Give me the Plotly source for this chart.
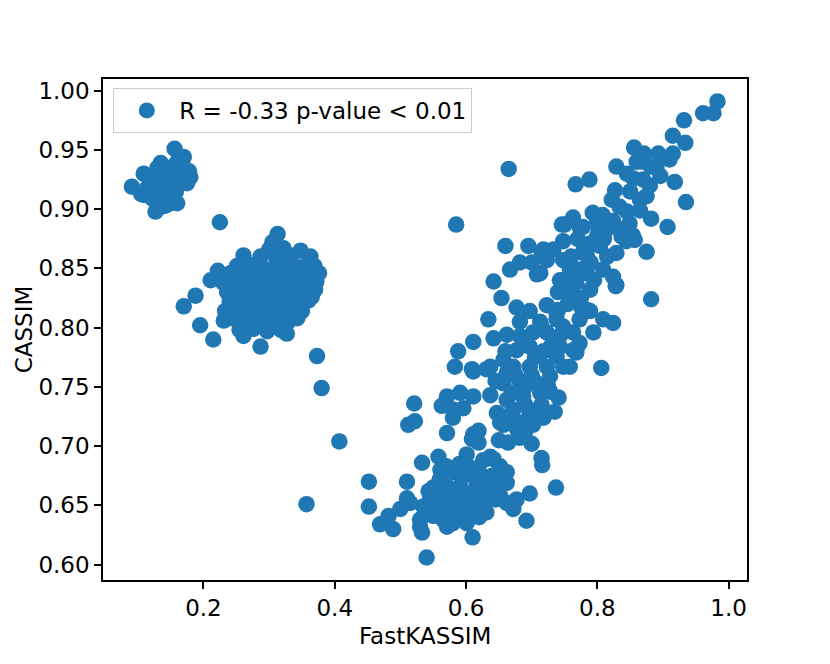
import plotly.graph_objects as go

# cluster at top left
top_x = [0.091, 0.105, 0.109, 0.109, 0.118, 0.120, 0.125, 0.127, 0.130, 0.132,
         0.135, 0.135, 0.140, 0.140, 0.145, 0.145, 0.150, 0.150, 0.155, 0.156,
         0.160, 0.160, 0.165, 0.168, 0.170, 0.175, 0.180, 0.178, 0.113, 0.142,
         0.122, 0.158]
top_y = [0.919, 0.913, 0.930, 0.912, 0.922, 0.926, 0.920, 0.898, 0.935, 0.927,
         0.939, 0.902, 0.910, 0.925, 0.935, 0.918, 0.915, 0.905, 0.925, 0.951,
         0.940, 0.905, 0.930, 0.938, 0.944, 0.922, 0.927, 0.932, 0.917, 0.903,
         0.909, 0.915]

# cluster at middle left, plus its stragglers
mid_x = [0.225, 0.170, 0.188, 0.195, 0.215, 0.287, 0.313, 0.305, 0.261, 0.222,
         0.211, 0.373, 0.380, 0.407, 0.357,
         0.300, 0.322, 0.348,
         0.287, 0.311, 0.334, 0.363,
         0.251, 0.271, 0.289, 0.309, 0.331, 0.350, 0.369,
         0.241, 0.263, 0.281, 0.303, 0.321, 0.343, 0.361, 0.376,
         0.230, 0.251, 0.269, 0.291, 0.309, 0.329, 0.351, 0.372,
         0.236, 0.257, 0.275, 0.297, 0.316, 0.337, 0.355, 0.370,
         0.240, 0.259, 0.281, 0.299, 0.321, 0.339, 0.360,
         0.233, 0.253, 0.271, 0.293, 0.311, 0.333, 0.350,
         0.231, 0.249, 0.271, 0.289, 0.311, 0.329, 0.343,
         0.255, 0.276, 0.297, 0.318,
         0.261, 0.327,
         0.262, 0.284, 0.306, 0.326, 0.346, 0.246, 0.266, 0.286, 0.306, 0.326,
         0.346, 0.365, 0.243, 0.265, 0.285, 0.305, 0.328, 0.340, 0.280, 0.300,
         0.320]
mid_y = [0.889, 0.818, 0.827, 0.802, 0.790, 0.784, 0.879, 0.872, 0.861, 0.848,
         0.840, 0.776, 0.749, 0.704, 0.651,
         0.866, 0.867, 0.865,
         0.860, 0.859, 0.861, 0.860,
         0.852, 0.853, 0.851, 0.852, 0.853, 0.851, 0.852,
         0.846, 0.845, 0.847, 0.846, 0.845, 0.846, 0.847, 0.846,
         0.838, 0.839, 0.837, 0.838, 0.839, 0.837, 0.838, 0.839,
         0.830, 0.831, 0.829, 0.830, 0.831, 0.829, 0.830, 0.832,
         0.822, 0.823, 0.821, 0.822, 0.823, 0.821, 0.823,
         0.814, 0.815, 0.813, 0.814, 0.815, 0.813, 0.814,
         0.806, 0.807, 0.805, 0.806, 0.807, 0.805, 0.808,
         0.798, 0.799, 0.797, 0.798,
         0.793, 0.795,
         0.842, 0.843, 0.841, 0.842, 0.843, 0.834, 0.835, 0.833, 0.834, 0.835,
         0.834, 0.826, 0.818, 0.818, 0.817, 0.818, 0.818, 0.818, 0.802, 0.802,
         0.803]

# long cluster on the right
right_x = [0.983, 0.961, 0.977, 0.932, 0.915, 0.934, 0.856, 0.871, 0.893, 0.915,
           0.910, 0.870, 0.829, 0.882, 0.896, 0.918, 0.855, 0.870, 0.788, 0.767,
           0.935, 0.827, 0.822, 0.865, 0.875, 0.834, 0.865, 0.882, 0.907, 0.746,
           0.763, 0.793, 0.808, 0.824, 0.849, 0.778, 0.814, 0.837, 0.857, 0.748,
           0.789, 0.804, 0.829, 0.875, 0.718, 0.733, 0.779, 0.665,
           0.585, 0.660, 0.695, 0.715, 0.750, 0.773, 0.799, 0.834, 0.854, 0.784,
           0.667, 0.682, 0.708, 0.723, 0.748, 0.758, 0.773, 0.784, 0.809, 0.824,
           0.829, 0.748, 0.768, 0.746, 0.763, 0.789, 0.642, 0.654, 0.677, 0.634,
           0.697, 0.723, 0.740, 0.682, 0.713, 0.738, 0.776, 0.789, 0.809, 0.824,
           0.773, 0.794, 0.763, 0.642, 0.662, 0.682, 0.702, 0.723, 0.743, 0.611,
           0.588, 0.583, 0.609, 0.637, 0.657, 0.677, 0.697, 0.718, 0.738, 0.763,
           0.773, 0.672, 0.697, 0.723, 0.748, 0.806,
           0.882, 0.828, 0.784, 0.768, 0.758, 0.743, 0.748, 0.738, 0.758, 0.743,
           0.763, 0.779, 0.844, 0.713, 0.715,
           0.611, 0.631, 0.662, 0.657, 0.682, 0.708, 0.728, 0.768, 0.571, 0.591,
           0.611, 0.580, 0.596, 0.563, 0.580, 0.637, 0.662, 0.687, 0.713, 0.728,
           0.741, 0.735, 0.647, 0.672, 0.697, 0.718, 0.657, 0.682, 0.702, 0.571,
           0.611, 0.619, 0.609, 0.664, 0.700, 0.682, 0.601, 0.637, 0.715,
           0.512, 0.522, 0.521, 0.619, 0.652, 0.677, 0.716, 0.737, 0.697, 0.692,
           0.452, 0.452, 0.469, 0.489, 0.482, 0.500, 0.510, 0.510, 0.533, 0.558,
           0.561, 0.543, 0.530, 0.533, 0.540, 0.571, 0.573, 0.591, 0.601, 0.610,
           0.631, 0.672, 0.606, 0.626, 0.642, 0.652, 0.662, 0.662, 0.581, 0.596,
           0.571, 0.591, 0.616, 0.637, 0.652, 0.616, 0.555, 0.535, 0.545, 0.611,
           0.591, 0.626, 0.515, 0.530, 0.550, 0.677, 0.662,
           0.560, 0.565, 0.575, 0.585, 0.585, 0.600, 0.605, 0.620, 0.625, 0.640,
           0.645, 0.630, 0.600, 0.580, 0.565, 0.620, 0.550, 0.560, 0.640, 0.655,
           0.610, 0.590, 0.570,
           0.690, 0.700, 0.715, 0.725, 0.705, 0.730, 0.660, 0.675, 0.645, 0.690,
           0.670, 0.660, 0.690, 0.650, 0.705,
           0.760, 0.770, 0.800, 0.790, 0.815, 0.810, 0.795, 0.775, 0.755, 0.740,
           0.700, 0.850, 0.845, 0.860, 0.890, 0.880, 0.845]
right_y = [0.991, 0.981, 0.981, 0.975, 0.962, 0.956, 0.952, 0.947, 0.947, 0.947,
           0.942, 0.940, 0.936, 0.936, 0.928, 0.923, 0.926, 0.925, 0.925, 0.921,
           0.906, 0.916, 0.908, 0.908, 0.911, 0.902, 0.899, 0.892, 0.885, 0.887,
           0.893, 0.897, 0.895, 0.890, 0.888, 0.885, 0.883, 0.877, 0.874, 0.873,
           0.871, 0.869, 0.863, 0.864, 0.866, 0.866, 0.863, 0.934,
           0.887, 0.869, 0.869, 0.864, 0.887, 0.885, 0.888, 0.883, 0.878, 0.861,
           0.849, 0.855, 0.845, 0.857, 0.857, 0.850, 0.849, 0.846, 0.849, 0.843,
           0.836, 0.840, 0.838, 0.832, 0.828, 0.832, 0.839, 0.825, 0.817, 0.807,
           0.814, 0.819, 0.815, 0.805, 0.805, 0.807, 0.817, 0.814, 0.807, 0.804,
           0.807, 0.796, 0.796, 0.791, 0.794, 0.793, 0.796, 0.796, 0.793, 0.788,
           0.780, 0.767, 0.765, 0.767, 0.773, 0.781, 0.784, 0.780, 0.776, 0.781,
           0.787, 0.767, 0.767, 0.767, 0.767, 0.766,
           0.824, 0.835, 0.815, 0.781, 0.767, 0.784, 0.801, 0.812, 0.827, 0.840,
           0.846, 0.866, 0.873, 0.846, 0.801,
           0.763, 0.765, 0.762, 0.753, 0.755, 0.753, 0.759, 0.779, 0.742, 0.745,
           0.742, 0.731, 0.732, 0.734, 0.724, 0.743, 0.739, 0.742, 0.745, 0.746,
           0.741, 0.729, 0.728, 0.731, 0.728, 0.724, 0.718, 0.720, 0.718, 0.711,
           0.710, 0.713, 0.706, 0.703, 0.702, 0.707, 0.693, 0.691, 0.690,
           0.718, 0.721, 0.736, 0.703, 0.720, 0.715, 0.684, 0.665, 0.660, 0.637,
           0.670, 0.649, 0.634, 0.630, 0.641, 0.647, 0.656, 0.670, 0.686, 0.691,
           0.680, 0.662, 0.632, 0.627, 0.606, 0.632, 0.644, 0.655, 0.635, 0.623,
           0.644, 0.647, 0.682, 0.688, 0.689, 0.683, 0.678, 0.669, 0.678, 0.675,
           0.666, 0.666, 0.669, 0.666, 0.658, 0.655, 0.652, 0.649, 0.655, 0.644,
           0.641, 0.649, 0.652, 0.638, 0.641, 0.655, 0.652,
           0.645, 0.660, 0.655, 0.648, 0.660, 0.650, 0.660, 0.660, 0.675, 0.675,
           0.655, 0.655, 0.645, 0.635, 0.638, 0.640, 0.665, 0.672, 0.660, 0.668,
           0.678, 0.685, 0.683,
           0.750, 0.760, 0.735, 0.750, 0.775, 0.785, 0.780, 0.760, 0.755, 0.735,
           0.745, 0.725, 0.712, 0.705, 0.730,
           0.860, 0.875, 0.878, 0.855, 0.860, 0.875, 0.840, 0.825, 0.820, 0.830,
           0.855, 0.915, 0.930, 0.940, 0.935, 0.920, 0.898]

fast_kassim = top_x + mid_x + right_x
cassim = top_y + mid_y + right_y

FONT = dict(family='DejaVu Sans', size=23, color='black')

fig = go.Figure()
fig.add_trace(go.Scatter(x=fast_kassim, y=cassim, mode='markers',
                         name='R = -0.33 p-value < 0.01',
                         marker=dict(color='#1f77b4', size=16.5, line=dict(width=0)),
                         showlegend=True))

axis_style = dict(
    showline=True, mirror=True, linecolor='black', linewidth=1.5,
    showgrid=False, zeroline=False, automargin=False,
    ticks='outside', ticklen=7, tickwidth=1.5, tickcolor='black',
    tickfont=FONT,
)

fig.update_layout(
    width=822, height=656,
    margin=dict(l=95, r=83, t=71, b=84),
    plot_bgcolor='white', paper_bgcolor='white',
    font=FONT,
    xaxis=dict(range=[0.047, 1.028], tickvals=[0.2, 0.4, 0.6, 0.8, 1.0],
               ticktext=['0.2', '0.4', '0.6', '0.8', '1.0'], **axis_style),
    yaxis=dict(range=[0.587, 1.0099], tickvals=[0.60, 0.65, 0.70, 0.75, 0.80, 0.85, 0.90, 0.95, 1.00],
               tickformat='.2f', **axis_style),
    legend=dict(x=0.016, y=0.982, xanchor='left', yanchor='top',
                bgcolor='rgba(255,255,255,0.8)', bordercolor='#cccccc', borderwidth=1,
                font=FONT, itemwidth=55),
)

# axis titles placed like the original
fig.add_annotation(text='FastKASSIM', xref='paper', yref='paper', x=0.5, y=-0.112,
                   xanchor='center', yanchor='middle', showarrow=False, font=FONT)
fig.add_annotation(text='CASSIM', xref='paper', yref='paper', x=-0.123, y=0.5,
                   xanchor='center', yanchor='middle', textangle=-90, showarrow=False, font=FONT)

fig.write_html("out.html")
